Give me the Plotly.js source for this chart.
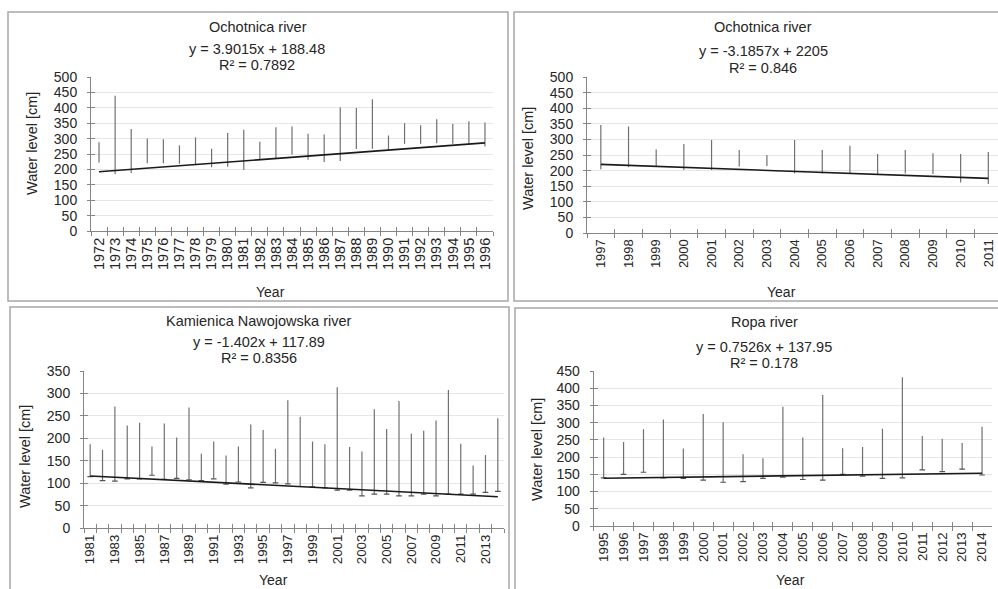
<!DOCTYPE html>
<html>
<head>
<meta charset="utf-8">
<script src="https://cdn.plot.ly/plotly-3.0.1.min.js"></script>
<style>html,body{margin:0;padding:0;overflow:hidden;background:#fff}#chart{width:998px;height:589px}</style>
</head>
<body>
<div id="chart"></div>
<script>
// ---- Data ----
const tlYears = ["1972","1973","1974","1975","1976","1977","1978","1979","1980","1981","1982","1983","1984","1985","1986","1987","1988","1989","1990","1991","1992","1993","1994","1995","1996"];
const tlHigh = [288,439,331,300,298,278,304,267,318,329,290,337,339,316,313,401,399,428,310,350,343,363,347,356,352];
const tlLow  = [222,185,188,220,220,218,214,207,209,198,233,235,248,231,224,227,266,267,264,283,283,285,283,283,274];
const tlTrend = [192.4, 286.0];

const trYears = ["1997","1998","1999","2000","2001","2002","2003","2004","2005","2006","2007","2008","2009","2010","2011"];
const trHigh = [346,341,268,285,298,266,250,298,266,280,253,266,256,253,260];
const trLow  = [204,211,212,202,202,213,215,191,191,189,189,191,189,162,157];
const trTrend = [220, 175];

const blYears = ["1981","1982","1983","1984","1985","1986","1987","1988","1989","1990","1991","1992","1993","1994","1995","1996","1997","1998","1999","2000","2001","2002","2003","2004","2005","2006","2007","2008","2009","2010","2011","2012","2013","2014"];
const blLabels = ["1981","","1983","","1985","","1987","","1989","","1991","","1993","","1995","","1997","","1999","","2001","","2003","","2005","","2007","","2009","","2011","","2013",""];
const blHigh = [187,175,271,229,235,182,233,202,269,166,193,162,182,231,219,177,285,248,193,187,314,181,171,265,221,283,211,217,240,308,188,140,163,245];
const blLow  = [115,106,105,110,110,118,109,111,108,106,110,98,103,90,102,101,99,93,92,90,85,85,72,76,76,72,72,76,72,76,76,76,80,82];
const blTrend = [116.5, 70.2];

const brYears = ["1995","1996","1997","1998","1999","2000","2001","2002","2003","2004","2005","2006","2007","2008","2009","2010","2011","2012","2013","2014"];
const brHigh = [257,244,281,309,225,325,301,208,197,346,257,380,226,229,282,432,261,253,241,288];
const brLow  = [140,150,156,140,138,133,127,129,138,142,135,133,150,145,138,140,163,158,165,148];
const brTrend = [138.7, 153.0];

const titles = ["Ochotnica river","Ochotnica river","Kamienica Nawojowska river","Ropa river"];
const equations = ["y = 3.9015x + 188.48","y = -3.1857x + 2205","y = -1.402x + 117.89","y = 0.7526x + 137.95"];
const r2 = ["R² = 0.7892","R² = 0.846","R² = 0.8356","R² = 0.178"];

// ---- Layout helpers ----
const W = 998, H = 589;
const px = v => v / W, py = v => 1 - v / H;
const FONT = "Liberation Sans, Arial, sans-serif";
const TXT = "#262626";
const AX = "#858585";

const panels = [
  {years: tlYears, labels: tlYears, high: tlHigh, low: tlLow, trend: tlTrend, ymax: 500,
   x0: 91, x1: 493, y0: 77, y1: 231, xmax: null, tf: 14.5, hooks: false,
   title: [258, 27], eq: [257, 49], r2: [257, 65], ytitle: [32, 143], year: [270, 292],
   frame: [8, 12, 508, 301]},
  {years: trYears, labels: trYears, high: trHigh, low: trLow, trend: trTrend, ymax: 500,
   x0: 587, x1: 998, y0: 77, y1: 233, xmax: 14.35, tf: 13, hooks: false,
   title: [763, 27], eq: [763, 51.5], r2: [763, 68], ytitle: [528, 159], year: [781, 292],
   frame: [514, 12, 1010, 301]},
  {years: blYears, labels: blLabels, high: blHigh, low: blLow, trend: blTrend, ymax: 350,
   x0: 84, x1: 504, y0: 371, y1: 528.3, xmax: null, tf: 13.3, hooks: true,
   title: [259, 321], eq: [259, 341.7], r2: [259, 358.3], ytitle: [25, 457], year: [273, 580],
   frame: [10, 307, 509, 600]},
  {years: brYears, labels: brYears, high: brHigh, low: brLow, trend: brTrend, ymax: 450,
   x0: 593.7, x1: 992, y0: 371, y1: 526, xmax: null, tf: 13.3, hooks: true,
   title: [764, 322.3], eq: [764, 346.7], r2: [764, 363.3], ytitle: [537, 450], year: [790, 580],
   frame: [515, 308, 1010, 600]}
];

const traces = [];
const layout = {
  width: W, height: H, margin: {l: 0, r: 0, t: 0, b: 0},
  paper_bgcolor: "#fff", plot_bgcolor: "#fff", showlegend: false,
  font: {family: FONT, color: TXT, size: 14},
  annotations: [], shapes: []
};

panels.forEach((p, i) => {
  const k = i + 1, ko = i + 5;
  const xk = k === 1 ? "x" : "x" + k, yk = k === 1 ? "y" : "y" + k;
  const xo = "x" + ko, yo = "y" + ko;
  const xkey = k === 1 ? "xaxis" : "xaxis" + k, ykey = k === 1 ? "yaxis" : "yaxis" + k;
  const n = p.years.length;
  const xr = [-0.5, p.xmax !== null ? p.xmax : n - 0.5];

  // vertical high-low lines
  const lx = [], ly = [];
  p.years.forEach((c, j) => { lx.push(c, c, null); ly.push(p.low[j], p.high[j], null); });
  traces.push({type: "scatter", mode: "lines", x: lx, y: ly, xaxis: xk, yaxis: yk,
    line: {color: "#707070", width: 1.2}, hoverinfo: "skip", connectgaps: false});

  // small hooks at the low end (bottom panels)
  if (p.hooks) {
    traces.push({type: "scatter", mode: "markers", x: p.years, y: p.low, xaxis: xk, yaxis: yk,
      marker: {symbol: "line-ew", size: 4, line: {color: "#555", width: 1.2}}, hoverinfo: "skip"});
  }

  // trend line (on overlay axes)
  traces.push({type: "scatter", mode: "lines", x: [p.years[0], p.years[n - 1]], y: p.trend,
    xaxis: xo, yaxis: yo, line: {color: "#1a1a1a", width: 1.6}, hoverinfo: "skip"});

  layout[xkey] = {
    type: "category", categoryorder: "array", categoryarray: p.years, range: xr,
    domain: [px(p.x0), px(p.x1)], anchor: yk, tickson: "boundaries",
    tickmode: "array", tickvals: p.years, ticktext: p.labels, tickangle: -90,
    ticks: "outside", ticklen: 4, tickcolor: AX, tickwidth: 1,
    showline: true, linecolor: AX, linewidth: 1, showgrid: false, zeroline: false,
    tickfont: {family: FONT, size: p.tf, color: TXT}, fixedrange: true
  };
  layout[ykey] = {
    range: [0, p.ymax], dtick: 50, tick0: 0, domain: [py(p.y1), py(p.y0)], anchor: xk,
    ticks: "outside", ticklen: 3, tickcolor: AX, tickwidth: 1, ticklabelstandoff: 7,
    showline: true, linecolor: AX, linewidth: 1, showgrid: true, gridcolor: "#e6e6e6", gridwidth: 1,
    zeroline: false, tickfont: {family: FONT, size: 14, color: TXT}, fixedrange: true
  };
  layout["xaxis" + ko] = {
    type: "category", categoryorder: "array", categoryarray: p.years, range: xr,
    overlaying: xk, anchor: yo, tickson: "boundaries", tickmode: "array", tickvals: p.years,
    ticks: "inside", ticklen: 4, tickcolor: AX, tickwidth: 1, showticklabels: false,
    showline: false, showgrid: false, zeroline: false, fixedrange: true
  };
  layout["yaxis" + ko] = {
    range: [0, p.ymax], dtick: 50, tick0: 0, overlaying: yk, anchor: xo,
    ticks: "inside", ticklen: 4, tickcolor: AX, tickwidth: 1, showticklabels: false,
    showline: false, showgrid: false, zeroline: false, fixedrange: true
  };

  const ann = (text, pos, extra) => layout.annotations.push(Object.assign({
    text: text, xref: "paper", yref: "paper", x: px(pos[0]), y: py(pos[1]),
    xanchor: "center", yanchor: "middle", showarrow: false,
    font: {family: FONT, size: 14.5, color: TXT}
  }, extra || {}));
  ann(titles[i], p.title);
  ann(equations[i], p.eq);
  ann(r2[i], p.r2);
  ann("Water level [cm]", p.ytitle, {textangle: -90});
  ann("Year", p.year, {font: {family: FONT, size: 14, color: TXT}});

  layout.shapes.push({type: "rect", xref: "paper", yref: "paper",
    x0: px(p.frame[0]), x1: px(p.frame[2]), y0: py(p.frame[3]), y1: py(p.frame[1]),
    line: {color: "#a6a6a6", width: 1.5}, fillcolor: "rgba(0,0,0,0)", layer: "below"});
});

Plotly.newPlot("chart", traces, layout, {staticPlot: true, displayModeBar: false});
</script>
</body>
</html>
